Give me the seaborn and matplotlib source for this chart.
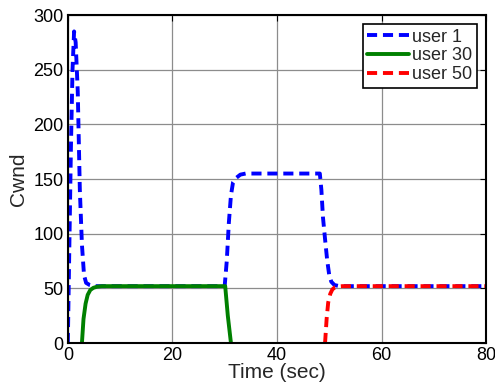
import numpy as np
import pandas as pd
import matplotlib
matplotlib.use('Agg')
import matplotlib.pyplot as plt
import seaborn as sns

sns.set_style("white")
plt.rcParams['font.family'] = ['Liberation Sans', 'DejaVu Sans']

# values
t_user1 = [0, 0.3, 0.6, 0.9, 1.2, 1.5, 1.9, 2.3, 2.7, 3.1, 3.5, 4.2, 5, 30,
           30.4, 30.8, 31.2, 31.6, 32.2, 33, 34, 48.2, 48.5, 48.8, 49.2,
           49.6, 50.0, 50.4, 51, 52, 80]
cwnd_user1 = [0, 90, 180, 250, 285, 275, 230, 140, 90, 62, 55, 53, 52, 52,
              75, 110, 135, 147, 151, 154, 155, 155, 140, 115, 95,
              76, 62, 56, 53, 52, 52]

t_user30 = [2.7, 3.0, 3.4, 3.8, 4.3, 4.9, 5.6, 6.5, 8, 30.1, 30.6, 31.2]
cwnd_user30 = [0, 22, 36, 44, 48.5, 50.5, 51.5, 52, 52, 52, 25, 0]

t_user50 = [49.2, 49.5, 49.8, 50.2, 50.6, 51.1, 51.7, 52.5, 80]
cwnd_user50 = [0, 22, 37, 45, 49, 51, 51.7, 52, 52]

fig = plt.figure(figsize=(4.95, 3.9), dpi=100)
ax = fig.add_axes([0.137, 0.1205, 0.845, 0.841])

sns.lineplot(x=t_user1, y=cwnd_user1, ax=ax, sort=False, estimator=None,
             color='#0000ff', lw=2.8, label='user 1')
sns.lineplot(x=t_user30, y=cwnd_user30, ax=ax, sort=False, estimator=None,
             color='#008000', lw=2.8, label='user 30')
sns.lineplot(x=t_user50, y=cwnd_user50, ax=ax, sort=False, estimator=None,
             color='#ff0000', lw=2.8, label='user 50')
ax.lines[0].set_dashes([2.6, 1.5])
ax.lines[2].set_dashes([2.6, 1.5])

ax.set_xlim(0, 80)
ax.set_ylim(0, 300)
ax.set_xticks([0, 20, 40, 60, 80])
ax.set_yticks([0, 50, 100, 150, 200, 250, 300])
ax.grid(True, color='#8c8c8c', lw=0.9)
ax.tick_params(direction='in', labelsize=13, length=4, pad=3,
               top=True, right=True, colors='black')
for s in ax.spines.values():
    s.set_color('black')
    s.set_linewidth(1.5)
ax.set_xlabel('Time (sec)', fontsize=15, labelpad=-1)
ax.set_ylabel('Cwnd', fontsize=15, labelpad=4)

leg = ax.legend(loc='upper right', fontsize=13, frameon=True, fancybox=False,
                framealpha=1, edgecolor='black', handlelength=2.3,
                handletextpad=0.2, borderpad=0.25, labelspacing=0.1,
                borderaxespad=0.5)
leg.get_frame().set_linewidth(1.2)
for h in leg.get_lines():
    h.set_linewidth(2.8)
leg.get_lines()[0].set_dashes([2.6, 1.5])
leg.get_lines()[2].set_dashes([2.6, 1.5])

fig.savefig('out.png', dpi=100)
